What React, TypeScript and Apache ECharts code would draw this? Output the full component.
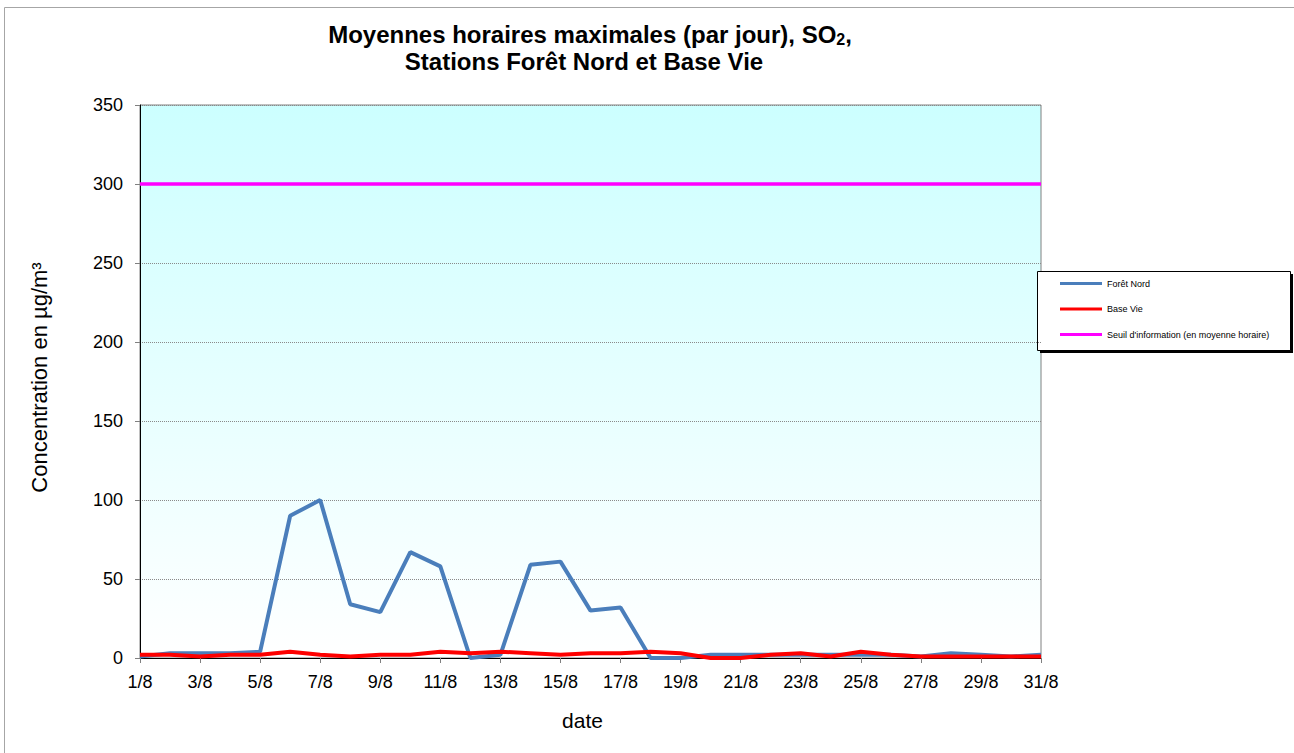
import React, { useEffect, useRef } from "react";
import * as echarts from "echarts";

const categories = [
  "1/8", "2/8", "3/8", "4/8", "5/8", "6/8", "7/8", "8/8", "9/8", "10/8",
  "11/8", "12/8", "13/8", "14/8", "15/8", "16/8", "17/8", "18/8", "19/8", "20/8",
  "21/8", "22/8", "23/8", "24/8", "25/8", "26/8", "27/8", "28/8", "29/8", "30/8", "31/8",
];

const foretNord = [
  1, 3, 3, 3, 4, 90, 100, 34, 29, 67,
  58, 0, 2, 59, 61, 30, 32, 0, 0, 2,
  2, 2, 2, 2, 2, 2, 1, 3, 2, 1, 2,
];

const baseVie = [
  2, 2, 1, 2, 2, 4, 2, 1, 2, 2,
  4, 3, 4, 3, 2, 3, 3, 4, 3, 0,
  0, 2, 3, 1, 4, 2, 1, 1, 1, 1, 1,
];

const seuil = [
  300, 300, 300, 300, 300, 300, 300, 300, 300, 300,
  300, 300, 300, 300, 300, 300, 300, 300, 300, 300,
  300, 300, 300, 300, 300, 300, 300, 300, 300, 300, 300,
];

const yMin = 0;
const yMax = 350;
const yInterval = 50;

const FONT = "'Liberation Sans', Arial, Helvetica, sans-serif";

export default function App() {
  const ref = useRef<HTMLDivElement>(null);

  useEffect(() => {
    if (!ref.current) return;
    const chart = echarts.init(ref.current, null, { renderer: "svg" });
    chart.setOption({
      animation: false,
      backgroundColor: "#ffffff",
      textStyle: { fontFamily: FONT },
      graphic: [
        {
          type: "rect",
          shape: { x: 4.5, y: 7.5, width: 1400, height: 900 },
          style: { fill: "none", stroke: "#a6a6a6", lineWidth: 1 },
          silent: true,
        },
        {
          type: "text",
          x: 590,
          y: 34,
          style: {
            text: "Moyennes horaires maximales (par jour), SO{sub|2},",
            fontFamily: FONT,
            fontSize: 24,
            fontWeight: "bold",
            fill: "#000",
            align: "center",
            verticalAlign: "middle",
            rich: {
              sub: {
                fontFamily: FONT,
                fontSize: 16,
                fontWeight: "bold",
                fill: "#000",
                padding: [11, 0, 0, 0],
              },
            },
          },
        },
        {
          type: "text",
          x: 584,
          y: 61,
          style: {
            text: "Stations Forêt Nord et Base Vie",
            fontFamily: FONT,
            fontSize: 24,
            fontWeight: "bold",
            fill: "#000",
            align: "center",
            verticalAlign: "middle",
          },
        },
        {
          type: "rect",
          shape: { x: 1040, y: 274, width: 253, height: 79 },
          style: { fill: "#000" },
          silent: true,
        },
        {
          type: "rect",
          shape: { x: 1037.5, y: 271.5, width: 253, height: 79 },
          style: { fill: "#fff", stroke: "#000", lineWidth: 1 },
          silent: true,
        },
      ],
      legend: {
        orient: "vertical",
        left: 1060,
        top: 279,
        padding: 0,
        itemGap: 16.5,
        itemWidth: 42,
        itemHeight: 3,
        icon: "rect",
        textStyle: { fontSize: 9, color: "#000", fontFamily: FONT },
        data: ["Forêt Nord", "Base Vie", "Seuil d'information (en moyenne horaire)"],
      },
      grid: {
        left: 140,
        top: 105,
        width: 901,
        height: 553,
        show: true,
        borderColor: "#808080",
        borderWidth: 1,
        backgroundColor: new echarts.graphic.LinearGradient(0, 0, 0, 1, [
          { offset: 0, color: "#ccffff" },
          { offset: 1, color: "#ffffff" },
        ]),
      },
      xAxis: {
        type: "category",
        data: categories,
        boundaryGap: false,
        name: "date",
        nameLocation: "middle",
        nameGap: 52,
        nameTextStyle: { fontSize: 21, color: "#000", fontFamily: FONT, padding: [0, 16, 0, 0] },
        axisLine: { show: true, lineStyle: { color: "#000", width: 1 } },
        axisTick: { show: true, interval: 1, length: 5, lineStyle: { color: "#808080" } },
        axisLabel: { interval: 1, fontSize: 18, color: "#000", margin: 15, fontFamily: FONT },
        splitLine: { show: false },
      },
      yAxis: {
        type: "value",
        min: yMin,
        max: yMax,
        interval: yInterval,
        name: "Concentration en µg/m³",
        nameLocation: "middle",
        nameGap: 90,
        nameTextStyle: { fontSize: 22, color: "#000", fontFamily: FONT, padding: [0, 0, 0, 8] },
        axisLine: { show: true, lineStyle: { color: "#000", width: 1 } },
        axisTick: { show: true, length: 5, lineStyle: { color: "#808080" } },
        axisLabel: { fontSize: 18, color: "#000", margin: 17, fontFamily: FONT },
        splitLine: { show: true, lineStyle: { color: "#8a8a8a", type: [1, 1], width: 1 } },
      },
      series: [
        {
          name: "Forêt Nord",
          type: "line",
          data: foretNord,
          symbol: "none",
          lineStyle: { color: "#4a7ebb", width: 4 },
          itemStyle: { color: "#4a7ebb" },
        },
        {
          name: "Base Vie",
          type: "line",
          data: baseVie,
          symbol: "none",
          lineStyle: { color: "#ff0000", width: 4 },
          itemStyle: { color: "#ff0000" },
        },
        {
          name: "Seuil d'information (en moyenne horaire)",
          type: "line",
          data: seuil,
          symbol: "none",
          lineStyle: { color: "#ff00ff", width: 3.5 },
          itemStyle: { color: "#ff00ff" },
        },
      ],
    });
    return () => chart.dispose();
  }, []);

  return (
    <div
      ref={ref}
      style={{ position: "fixed", left: 0, top: 0, width: 1294, height: 753 }}
    />
  );
}
